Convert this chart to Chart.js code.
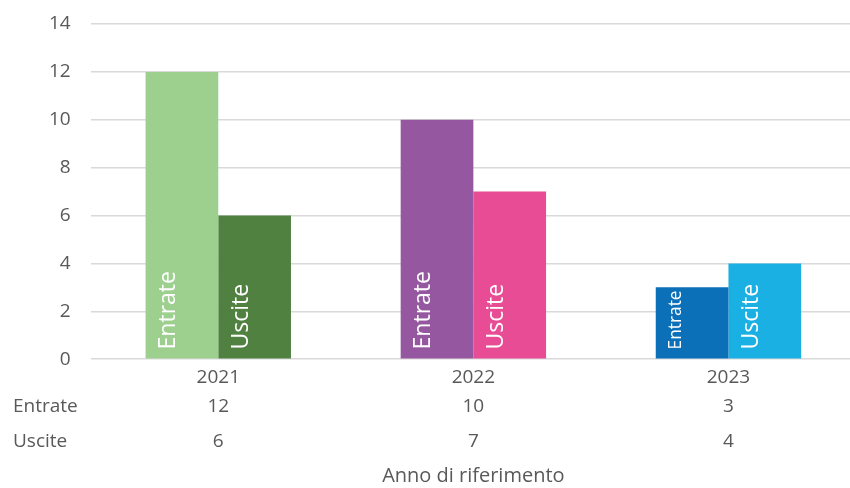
<!DOCTYPE html>
<html>
<head>
<meta charset="utf-8">
<script src="https://cdn.jsdelivr.net/npm/chart.js@4"></script>
<style>
  html, body { margin: 0; padding: 0; overflow: hidden; background: #fff; }
  #wrap { width: 858px; height: 488px; position: relative; }
</style>
</head>
<body>
<div id="wrap"><canvas id="grafico"></canvas></div>
<script>
// dati
const anni = ['2021', '2022', '2023'];
const entrate = [12, 10, 3];
const uscite = [6, 7, 4];
const righeTabella = ['Entrate', 'Uscite'];
const coloriEntrate = ['#9DD08F', '#9558A0', '#0B70B8'];
const coloriUscite = ['#508141', '#E84C94', '#1BB0E3'];

const FONT = '"Open Sans", "Liberation Sans", sans-serif';
const GRIGIO = '#595959';

// etichette ruotate dentro le barre
const etichetteBarre = {
    id: 'etichetteBarre',
    afterDatasetsDraw(chart) {
        const ctx = chart.ctx;
        chart.data.datasets.forEach((ds, i) => {
            const meta = chart.getDatasetMeta(i);
            meta.data.forEach(bar => {
                const altezza = bar.base - bar.y;
                let size = 23;
                ctx.font = size + 'px ' + FONT;
                const w = ctx.measureText(ds.label).width;
                if (w > altezza - 12) size = size * (altezza - 12) / w;
                ctx.save();
                ctx.font = size + 'px ' + FONT;
                ctx.fillStyle = '#ffffff';
                ctx.textAlign = 'left';
                ctx.textBaseline = 'alphabetic';
                ctx.translate(bar.x - bar.width / 2 + 12 + size * 0.75, bar.base - 9);
                ctx.rotate(-Math.PI / 2);
                ctx.fillText(ds.label, 0, 0);
                ctx.restore();
            });
        });
    }
};

// tabella dati sotto l'asse x
const tabellaDati = {
    id: 'tabellaDati',
    afterDraw(chart) {
        const ctx = chart.ctx;
        const x = chart.scales.x;
        const fondo = chart.chartArea.bottom;
        const righe = [entrate, uscite];
        const offset = [47, 82];
        ctx.save();
        ctx.font = '19px ' + FONT;
        ctx.fillStyle = GRIGIO;
        ctx.textBaseline = 'middle';
        righe.forEach((valori, r) => {
            const y = fondo + offset[r];
            ctx.textAlign = 'left';
            ctx.fillText(righeTabella[r], 13, y);
            ctx.textAlign = 'center';
            valori.forEach((v, j) => ctx.fillText(String(v), x.getPixelForValue(j), y));
        });
        ctx.restore();
    }
};

new Chart(document.getElementById('grafico'), {
    type: 'bar',
    data: {
        labels: anni,
        datasets: [
            { label: 'Entrate', data: entrate, backgroundColor: coloriEntrate },
            { label: 'Uscite', data: uscite, backgroundColor: coloriUscite }
        ]
    },
    options: {
        responsive: true, maintainAspectRatio: false, animation: false,
        layout: { padding: { left: 29, right: 2, top: 0, bottom: 0 } },
        datasets: { bar: { categoryPercentage: 0.57, barPercentage: 1.0, borderWidth: 0 } },
        plugins: { legend: { display: false }, tooltip: { enabled: false } },
        scales: {
            x: {
                grid: { display: false, drawTicks: false },
                border: { display: false },
                ticks: { color: GRIGIO, font: { family: FONT, size: 19 }, padding: 7 },
                title: { display: true, text: 'Anno di riferimento', color: GRIGIO,
                         font: { family: FONT, size: 20 }, padding: { top: 68, bottom: 0 } }
            },
            y: {
                min: 0, max: 14,
                grid: { color: '#D9D9D9', lineWidth: 1.5, drawTicks: false },
                border: { display: false },
                ticks: { stepSize: 2, color: GRIGIO, font: { family: FONT, size: 19 }, padding: 20 },
                afterFit(scale) { scale.paddingTop = 24; }
            }
        }
    },
    plugins: [etichetteBarre, tabellaDati]
});
</script>
</body>
</html>
